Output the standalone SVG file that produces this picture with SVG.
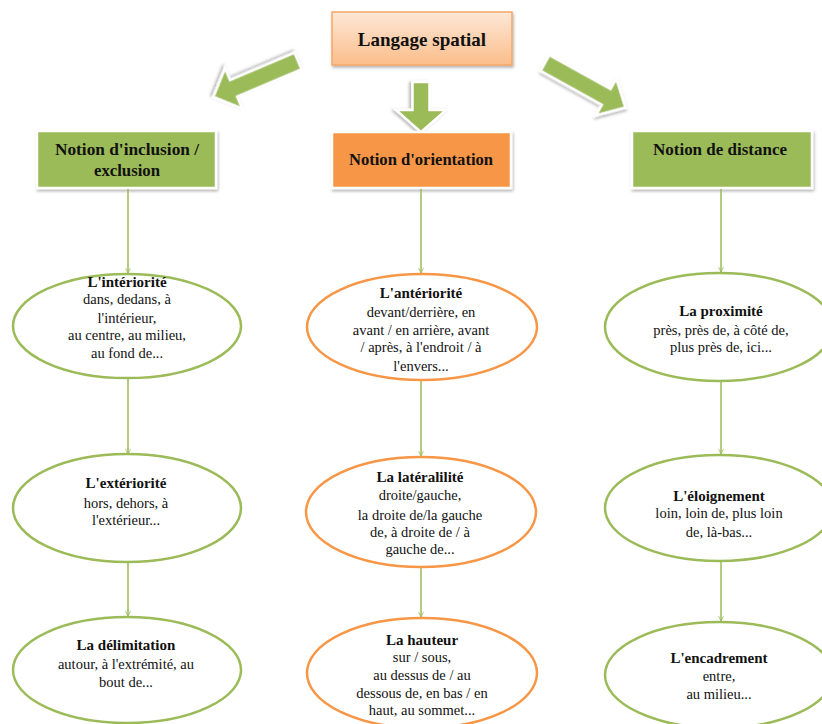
<svg xmlns="http://www.w3.org/2000/svg" width="822" height="724" viewBox="0 0 822 724" font-family="'Liberation Serif', 'Times New Roman', 'DejaVu Serif', serif">
  <defs>
    <linearGradient id="peach" x1="0" y1="0" x2="0" y2="1">
      <stop offset="0" stop-color="#fde8d7"/>
      <stop offset="1" stop-color="#fbbd8a"/>
    </linearGradient>
    <filter id="shadow" x="-20%" y="-20%" width="140%" height="150%">
      <feDropShadow dx="1" dy="2" stdDeviation="1.5" flood-color="#000" flood-opacity="0.3"/>
    </filter>
    <marker id="tip" viewBox="0 0 10 10" refX="9" refY="5" markerWidth="6" markerHeight="6" markerUnits="userSpaceOnUse" orient="auto">
      <path d="M1,1 L9,5 L1,9" fill="none" stroke="#9bbb59" stroke-width="1.4"/>
    </marker>
  </defs>
  <style>
    .bigarrow { fill: #9bbb59; stroke: #ffffff; stroke-width: 2.5; stroke-linejoin: miter; filter: url(#shadow); }
    .box { stroke: #ffffff; stroke-width: 2.5; filter: url(#shadow); }
    .green { fill: #9bbb59; }
    .orange { fill: #f79646; }
    .ell { fill: #ffffff; stroke-width: 2.5; }
    .ell.g { stroke: #9bbb59; }
    .ell.o { stroke: #f79646; }
    .link { stroke: #9bbb59; stroke-width: 1.5; fill: none; marker-end: url(#tip); }
    text { font-family: "Liberation Serif", "Times New Roman", "DejaVu Serif", serif; fill: #111111; text-anchor: middle; }
    .head { font-size: 17px; font-weight: bold; }
    .h1 { font-size: 19px; font-weight: bold; }
    .t { font-size: 15px; font-weight: bold; }
    .b { font-size: 14.5px; }
  </style>

  <!-- root node -->
  <g id="root">
    <rect x="332" y="12" width="180" height="53" fill="url(#peach)" stroke="#f5a66a" stroke-width="1.5" filter="url(#shadow)"/>
    <text class="h1" x="422" y="46">Langage spatial</text>
  </g>

  <!-- block arrows from the root -->
  <g id="block-arrows">
    <path class="bigarrow" transform="translate(298,61) rotate(157)" d="M0,-9 L70,-9 L70,-22 L92,0 L70,22 L70,9 L0,9 Z"/>
    <path class="bigarrow" transform="translate(421,82) rotate(90)" d="M0,-8.5 L28,-8.5 L28,-25 L50,0 L28,25 L28,8.5 L0,8.5 Z"/>
    <path class="bigarrow" transform="translate(545,63) rotate(29)" d="M0,-9 L70,-9 L70,-21 L92,0 L70,21 L70,9 L0,9 Z"/>
  </g>

  <!-- category nodes -->
  <g id="inclusion">
    <rect class="box green" x="37" y="131" width="179" height="57"/>
    <text class="head" x="127" y="155" textLength="144" lengthAdjust="spacingAndGlyphs">Notion d'inclusion /</text>
    <text class="head" x="127" y="176" textLength="66" lengthAdjust="spacingAndGlyphs">exclusion</text>
  </g>
  <g id="orientation">
    <rect class="box orange" x="332" y="132" width="179" height="56"/>
    <text class="head" x="421" y="165" textLength="144" lengthAdjust="spacingAndGlyphs">Notion d'orientation</text>
  </g>
  <g id="distance">
    <rect class="box green" x="632" y="131" width="180" height="57"/>
    <text class="head" x="720" y="155" textLength="134" lengthAdjust="spacingAndGlyphs">Notion de distance</text>
  </g>

  <!-- connectors -->
  <g id="connectors">
    <line class="link" x1="128" y1="189" x2="128" y2="273"/>
    <line class="link" x1="128" y1="378" x2="128" y2="454"/>
    <line class="link" x1="128" y1="562" x2="128" y2="616"/>
    <line class="link" x1="421" y1="189" x2="421" y2="273"/>
    <line class="link" x1="421" y1="380" x2="421" y2="456"/>
    <line class="link" x1="421" y1="567" x2="421" y2="617"/>
    <line class="link" x1="721" y1="189" x2="721" y2="272"/>
    <line class="link" x1="721" y1="381" x2="721" y2="454"/>
    <line class="link" x1="721" y1="561" x2="721" y2="621"/>
  </g>

  <!-- inclusion / exclusion column -->
  <g id="interiorite">
    <ellipse class="ell g" cx="127" cy="326" rx="114" ry="52"/>
    <text class="t" x="127" y="287">L'intériorité</text>
    <text class="b" x="127" y="304">dans, dedans,  à</text>
    <text class="b" x="127" y="323">l'intérieur,</text>
    <text class="b" x="127" y="340">au centre, au milieu,</text>
    <text class="b" x="127" y="358">au fond de...</text>
  </g>
  <g id="exteriorite">
    <ellipse class="ell g" cx="127" cy="508" rx="114" ry="54"/>
    <text class="t" x="126" y="488">L'extériorité</text>
    <text class="b" x="126" y="508">hors, dehors, à</text>
    <text class="b" x="126" y="525">l'extérieur...</text>
  </g>
  <g id="delimitation">
    <ellipse class="ell g" cx="127" cy="670" rx="114" ry="53"/>
    <text class="t" x="126" y="650">La délimitation</text>
    <text class="b" x="126" y="669">autour, à l'extrémité, au</text>
    <text class="b" x="126" y="687">bout de...</text>
  </g>

  <!-- orientation column -->
  <g id="anteriorite">
    <ellipse class="ell o" cx="422" cy="327" rx="115" ry="53"/>
    <text class="t" x="421" y="298">L'antériorité</text>
    <text class="b" x="421" y="317">devant/derrière, en</text>
    <text class="b" x="421" y="335">avant / en arrière, avant</text>
    <text class="b" x="421" y="352">/ après, à l'endroit / à</text>
    <text class="b" x="421" y="371">l'envers...</text>
  </g>
  <g id="lateralite">
    <ellipse class="ell o" cx="421" cy="512" rx="115" ry="55"/>
    <text class="t" x="420" y="482">La latéralilité</text>
    <text class="b" x="420" y="500">droite/gauche,</text>
    <text class="b" x="420" y="520">la droite de/la  gauche</text>
    <text class="b" x="420" y="537">de, à droite de  / à</text>
    <text class="b" x="420" y="554">gauche  de...</text>
  </g>
  <g id="hauteur">
    <ellipse class="ell o" cx="422" cy="673" rx="115" ry="55"/>
    <text class="t" x="422" y="645">La hauteur</text>
    <text class="b" x="422" y="662">sur  / sous,</text>
    <text class="b" x="422" y="680">au dessus  de / au</text>
    <text class="b" x="422" y="698">dessous  de, en bas / en</text>
    <text class="b" x="422" y="715">haut, au sommet...</text>
  </g>

  <!-- distance column -->
  <g id="proximite">
    <ellipse class="ell g" cx="719" cy="327" rx="114" ry="54"/>
    <text class="t" x="721" y="316">La proximité</text>
    <text class="b" x="721" y="335">près, près de, à côté de,</text>
    <text class="b" x="721" y="352">plus près de,  ici...</text>
  </g>
  <g id="eloignement">
    <ellipse class="ell g" cx="719" cy="508" rx="114" ry="53"/>
    <text class="t" x="719" y="501">L'éloignement</text>
    <text class="b" x="719" y="518">loin, loin de, plus loin</text>
    <text class="b" x="719" y="537">de, là-bas...</text>
  </g>
  <g id="encadrement">
    <ellipse class="ell g" cx="719" cy="675" rx="114" ry="53"/>
    <text class="t" x="719" y="663">L'encadrement</text>
    <text class="b" x="719" y="681">entre,</text>
    <text class="b" x="719" y="699">au milieu...</text>
  </g>
</svg>
